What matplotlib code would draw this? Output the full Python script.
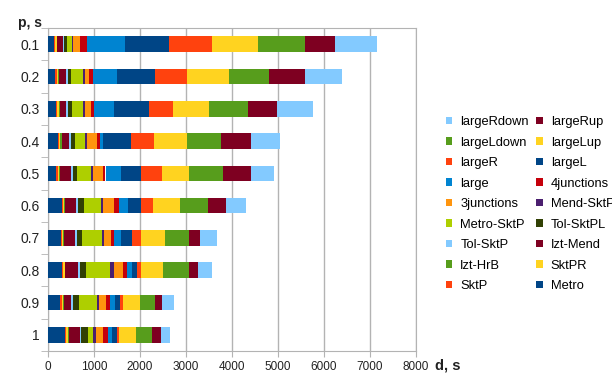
import matplotlib.pyplot as plt
import numpy as np
from matplotlib.patches import Patch

plt.rcParams['font.family'] = ['Liberation Sans', 'DejaVu Sans']

# p values (one bar per value)
p_labels = ['0.1', '0.2', '0.3', '0.4', '0.5', '0.6', '0.7', '0.8', '0.9', '1']

# time spent in each part of the route, seconds
metro       = [140, 160, 175, 210, 180, 305, 275, 310, 270, 370]
sktp        = [20, 30, 30, 30, 30, 25, 25, 25, 25, 25]
sktpr       = [25, 30, 30, 30, 30, 20, 30, 25, 30, 35]
izt_hrb     = [20, 25, 25, 25, 30, 15, 20, 15, 20, 20]
izt_mend    = [115, 145, 140, 165, 220, 250, 235, 270, 160, 240]
tol_sktp    = [25, 35, 35, 30, 45, 35, 45, 40, 40, 35]
tol_sktpl   = [60, 80, 85, 95, 105, 125, 115, 150, 125, 135]
metro_sktp  = [110, 255, 250, 215, 300, 375, 420, 510, 390, 110]
mend_sktp   = [30, 45, 40, 50, 45, 40, 50, 80, 50, 70]
junctions3  = [160, 95, 115, 215, 200, 240, 145, 210, 160, 160]
junctions4  = [140, 70, 85, 75, 65, 115, 70, 85, 85, 95]
large       = [825, 530, 435, 55, 335, 195, 150, 115, 95, 95]
large_l     = [965, 825, 745, 615, 430, 290, 255, 110, 110, 100]
large_r     = [920, 695, 520, 505, 455, 255, 195, 85, 70, 60]
large_lup   = [1015, 905, 795, 710, 595, 580, 505, 470, 360, 360]
large_ldown = [1015, 885, 835, 740, 745, 615, 520, 560, 340, 360]
large_rup   = [650, 785, 645, 640, 600, 400, 260, 190, 145, 195]
large_rdown = [920, 790, 770, 645, 500, 420, 360, 305, 260, 180]

names = ['Metro', 'SktP', 'SktPR', 'Izt-HrB', 'Izt-Mend', 'Tol-SktP',
         'Tol-SktPL', 'Metro-SktP', 'Mend-SktP', '3junctions', '4junctions',
         'large', 'largeL', 'largeR', 'largeLup', 'largeLdown', 'largeRup',
         'largeRdown']
values = [metro, sktp, sktpr, izt_hrb, izt_mend, tol_sktp, tol_sktpl,
          metro_sktp, mend_sktp, junctions3, junctions4, large, large_l,
          large_r, large_lup, large_ldown, large_rup, large_rdown]
colors = ['#004586', '#ff420e', '#ffd320', '#579d1c', '#7e0021', '#83caff',
          '#314004', '#aecf00', '#4b1f6f', '#ff950e', '#c5000b', '#0084d1',
          '#004586', '#ff420e', '#ffd320', '#579d1c', '#7e0021', '#83caff']

fig = plt.figure(figsize=(6.12, 3.76), dpi=100)
ax = fig.add_axes([48 / 612, 25 / 376, 368 / 612, 323 / 376])

y = np.arange(len(p_labels))
left = np.zeros(len(p_labels))
handles = []
for name, vals, col in zip(names, values, colors):
    ax.barh(y, vals, left=left, height=0.48, color=col, zorder=3)
    left += np.array(vals)
    handles.append(Patch(facecolor=col, label=name))

ax.set_xlim(0, 8000)
ax.set_ylim(len(p_labels) - 0.5, -0.5)
ax.set_xticks(np.arange(0, 8001, 1000))
ax.set_yticks(y)
ax.set_yticklabels(p_labels)
ax.set_yticks(np.arange(-0.5, len(p_labels)), minor=True)
ax.grid(axis='x', color='#b3b3b3', linewidth=1, zorder=0)

for s in ax.spines.values():
    s.set_color('#b3b3b3')
ax.tick_params(axis='y', which='major', length=0, pad=6, labelsize=10, labelcolor='#222222')
ax.tick_params(axis='y', which='minor', length=5, color='#b3b3b3')
ax.tick_params(axis='x', length=4, color='#b3b3b3', pad=3, labelsize=8.5, labelcolor='#222222')

fig.text(30 / 612, 1 - 23 / 376, 'p, s', fontsize=10, fontweight='bold',
         ha='center', va='center', color='#222222')
fig.text(448 / 612, 1 - 366 / 376, 'd, s', fontsize=10.5, fontweight='bold',
         ha='center', va='center', color='#222222')

# legend filled row by row in reverse stacking order
rev = handles[::-1]
leg_handles = rev[0::2] + rev[1::2]
fig.legend(handles=leg_handles, loc='upper left', bbox_to_anchor=(446 / 612, 1 - 116 / 376),
           ncol=2, frameon=False, fontsize=9.3, borderaxespad=0, borderpad=0,
           handlelength=0.5, handleheight=0.5, handletextpad=0.6,
           columnspacing=0.6, labelspacing=0.66)

fig.savefig('out.png', dpi=100)
